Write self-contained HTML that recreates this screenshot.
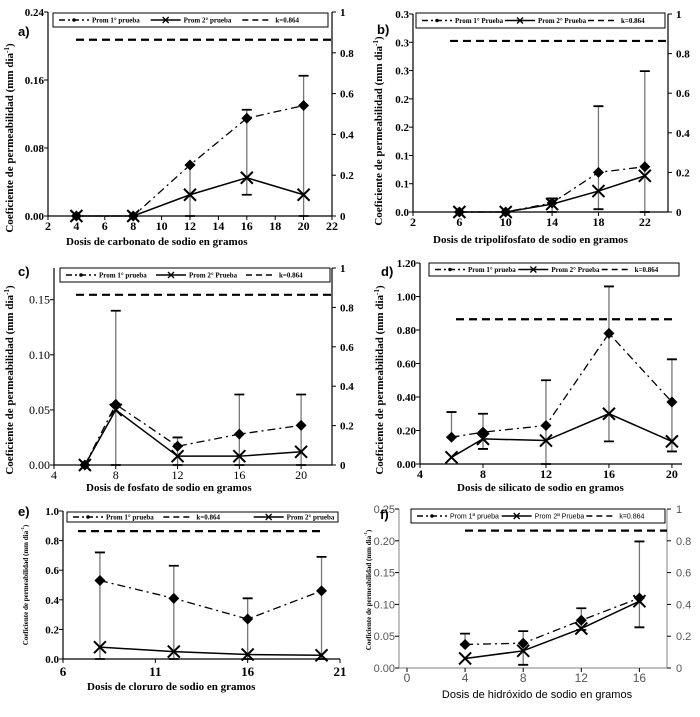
<!DOCTYPE html>
<html><head><meta charset="utf-8">
<style>
html,body{margin:0;padding:0;background:#fff;}
svg{display:block;font-family:"Liberation Serif",serif;}
</style></head>
<body>
<svg id="fig" width="700" height="717" viewBox="0 0 700 717" xmlns="http://www.w3.org/2000/svg"></svg>
<script>
// ---- Panel a: carbonato ----
const aX=[4,8,12,16,20];
const aS1=[0,0,0.06,0.115,0.13];
const aS2=[0,0,0.025,0.045,0.025];
const aLo=[0,0,0,0.025,0];
const aHi=[0,0,0.06,0.125,0.165];
const aYTicks=["0.00","0.08","0.16","0.24"];
const aXTicks=[2,4,6,8,10,12,14,16,18,20,22];
// ---- Panel b: tripolifosfato ----
const bX=[6,10,14,18,22];
const bS1=[0,0,0.016,0.07,0.08];
const bS2=[0,0,0.014,0.037,0.064];
const bLo=[0,0,0,0.005,0];
const bHi=[0,0,0.024,0.187,0.249];
const bYTicks=["0.0","0.1","0.1","0.2","0.2","0.3","0.3","0.3"];
const bXTicks=[2,6,10,14,18,22];
// ---- Panel c: fosfato ----
const cX=[6,8,12,16,20];
const cS1=[0,0.055,0.017,0.028,0.036];
const cS2=[0,0.05,0.008,0.008,0.012];
const cLo=[0,0,0,0,0];
const cHi=[0,0.14,0.025,0.064,0.064];
const cYTicks=["0.00","0.05","0.10","0.15"];
const cXTicks=[4,8,12,16,20];
// ---- Panel d: silicato ----
const dX=[6,8,12,16,20];
const dS1=[0.16,0.19,0.23,0.78,0.37];
const dS2=[0.04,0.15,0.14,0.30,0.135];
const dLo=[0.16,0.09,0,0.135,0.075];
const dHi=[0.31,0.30,0.50,1.06,0.625];
const dYTicks=["0.00","0.20","0.40","0.60","0.80","1.00","1.20"];
const dXTicks=[4,8,12,16,20];
// ---- Panel e: cloruro ----
const eX=[8,12,16,20];
const eS1=[0.53,0.41,0.27,0.46];
const eS2=[0.08,0.05,0.03,0.025];
const eLo=[0,0,0,0];
const eHi=[0.72,0.63,0.41,0.69];
const eYTicks=["0.0","0.2","0.4","0.6","0.8","1.0"];
const eXTicks=[6,11,16,21];
// ---- Panel f: hidroxido ----
const fX=[4,8,12,16];
const fS1=[0.037,0.039,0.075,0.11];
const fS2=[0.015,0.027,0.062,0.105];
const fLo=[0.037,0.005,0.06,0.064];
const fHi=[0.054,0.058,0.094,0.199];
const fYTicks=["0.00","0.05","0.10","0.15","0.20","0.25"];
const fXTicks=[0,4,8,12,16];
const kValue=0.864;
const rightTicks=["0","0.2","0.4","0.6","0.8","1"];

const NS="http://www.w3.org/2000/svg";
const svg=document.getElementById('fig');
function mk(tag,attrs,parent,text){const e=document.createElementNS(NS,tag);for(const k in attrs)e.setAttribute(k,attrs[k]);if(text!==undefined)e.textContent=text;(parent||svg).appendChild(e);return e;}

const panels=[
 {id:'a',X:aX,S1:aS1,S2:aS2,Lo:aLo,Hi:aHi,yT:aYTicks,xT:aXTicks,L:48,R:332,T:12,B:216,xmin:2,xmax:22,ymax:0.24,right:true,rx:340,
  title:"Dosis de carbonato de sodio en gramos",tx:66,ty:245,lab:[18,36],yl:[13,138],yfs:11,
  leg:[53,13,328,27],legItems:["Prom 1° prueba","Prom 2° prueba","k=0.864"],kx:76,sans:false},
 {id:'b',X:bX,S1:bS1,S2:bS2,Lo:bLo,Hi:bHi,yT:bYTicks,xT:bXTicks,L:413,R:668,T:14,B:212,xmin:2,xmax:24,ymax:0.35,right:true,rx:676,
  title:"Dosis de tripolifosfato de sodio en gramos",tx:433,ty:243,lab:[377,34],yl:[382,131],yfs:11,
  leg:[416,13,665,28],legItems:["Prom 1° Prueba","Prom 2° Prueba","k=0.864"],kx:450,sans:false},
 {id:'c',X:cX,S1:cS1,S2:cS2,Lo:cLo,Hi:cHi,yT:cYTicks,xT:cXTicks,L:54,R:332,T:268,B:465,xmin:4,xmax:22,ymax:0.1788,right:true,rx:340,
  title:"Dosis de fosfato de sodio en gramos",tx:86,ty:491,lab:[18,276],yl:[13,380],yfs:11,
  leg:[60,268,330,282],legItems:["Prom 1° prueba","Prom 2° Prueba","k=0.864"],kx:76,sans:false},
 {id:'d',X:dX,S1:dS1,S2:dS2,Lo:dLo,Hi:dHi,yT:dYTicks,xT:dXTicks,L:420,R:682,T:263,B:464,xmin:4,xmax:20.64,ymax:1.2,right:false,kAbs:true,
  title:"Dosis de silicato de sodio en gramos",tx:457,ty:491,lab:[381,276],yl:[383,380],yfs:11,
  leg:[429,263,679,276],legItems:["Prom 1° prueba","Prom 2° Prueba","k=0.864"],kx:456,kx2:673,sans:false},
 {id:'e',X:eX,S1:eS1,S2:eS2,Lo:eLo,Hi:eHi,yT:eYTicks,xT:eXTicks,L:63,R:340,T:511,B:659,xmin:6,xmax:21,ymax:1.0,right:false,kAbs:true,
  title:"Dosis de cloruro de sodio en gramos",tx:87,ty:690,lab:[18,516],yl:[28,585],yfs:7,
  leg:[67,512,338,522],legItems:["Prom 1° prueba","k=0.864","Prom 2° prueba"],kx:78,kx2:320,sans:false,order:[0,2,1]},
 {id:'f',X:fX,S1:fS1,S2:fS2,Lo:fLo,Hi:fHi,yT:fYTicks,xT:fXTicks,L:399,R:667,T:509,B:668,xmin:-0.55,xmax:17.9,ymax:0.25,right:true,rx:676,
  title:"Dosis de hidróxido de sodio en gramos",tx:537,ty:698,lab:[380,519],yl:[371,590],yfs:7,
  leg:[411,509,665,523],legItems:["Prom 1ª prueba","Prom 2ª Prueba","k=0.864"],kx:465,sans:true}
];

function diamond(x,y,g){const s=5.5;const p=mk('path',{d:`M${x},${y-s}L${x+s},${y}L${x},${y+s}L${x-s},${y}Z`,fill:'#000'},g);

}
function cross(x,y,g){const s=6;const p=mk('path',{d:`M${x-s},${y-s}L${x+s},${y+s}M${x-s},${y+s}L${x+s},${y-s}`,stroke:'#000','stroke-width':2},g);

}

panels.forEach(p=>{
  const g=mk('g',{});
  
  
  const ff=p.sans?'"Liberation Sans",sans-serif':'"Liberation Serif",serif';
  const tcol=p.sans?'#555':'#000';
  const fw=p.sans?'normal':'bold';
  const xs=v=>p.L+(v-p.xmin)/(p.xmax-p.xmin)*(p.R-p.L);
  const ys=v=>p.B-v/p.ymax*(p.B-p.T);
  const yr=v=>p.B-v*(p.B-p.T);
  const ax=mk('path',{d:`M${p.L},${p.T}V${p.B}H${p.R}`,stroke:p.sans?'#999':'#000','stroke-width':1.2,fill:'none'},g);
  
  
  if(p.right){const ra=mk('path',{d:`M${p.R},${p.T}V${p.B}`,stroke:p.sans?'#999':'#000','stroke-width':1.2},g);
    
    
    rightTicks.forEach((t,i)=>{const y=yr(i/5);
      mk('line',{x1:p.R,x2:p.R+4,y1:y,y2:y,stroke:'#000'},g);
      const tt=mk('text',{x:p.rx,y:y+4,'font-size':11,'font-family':ff,'font-weight':fw,fill:tcol},g,t);
      
      });}
  const n=p.yT.length-1;
  p.yT.forEach((t,i)=>{let v=p.ymax*i/n; if(p.id==='c') v=0.05*i;
    const y=ys(v);
    mk('line',{x1:p.L-4,x2:p.L,y1:y,y2:y,stroke:'#000'},g);
    const tt=mk('text',{x:p.L-4,y:y+4,'text-anchor':'end','font-size':p.id==='c'?12:11,'font-family':ff,'font-weight':p.id==='c'?'normal':fw,fill:tcol},g,t);
    
    });
  p.xT.forEach(v=>{const x=xs(v);
    mk('line',{x1:x,x2:x,y1:p.B,y2:p.B+4,stroke:'#000'},g);
    const tt=mk('text',{x:x,y:p.B+(p.id==='e'?17:14),'text-anchor':'middle','font-size':p.id==='e'?13:12,'font-family':ff,'font-weight':(p.id==='c'||p.id==='f')?'normal':fw,fill:tcol},g,String(v));
    
    });
  const ky=p.kAbs?ys(kValue):yr(kValue);
  const kl=mk('line',{x1:p.kx,x2:p.kx2||p.R,y1:ky,y2:ky,stroke:'#000','stroke-width':2.2,'stroke-dasharray':'8,5'},g);
  
  
  p.X.forEach((xv,i)=>{if(p.Hi[i]===p.Lo[i])return;const x=xs(xv);
    const eb=mk('path',{d:`M${x},${ys(p.Lo[i])}V${ys(p.Hi[i])}`,stroke:'#777','stroke-width':1.3},g);
    
    
    mk('path',{d:`M${x-5},${ys(p.Hi[i])}H${x+5}M${x-5},${ys(p.Lo[i])}H${x+5}`,stroke:'#000','stroke-width':1.8},g);});
  const l1=mk('polyline',{points:p.X.map((x,i)=>xs(x)+','+ys(p.S1[i])).join(' '),fill:'none',stroke:'#000','stroke-width':1.3,'stroke-dasharray':'8,4,2,4'},g);
  
  
  const l2=mk('polyline',{points:p.X.map((x,i)=>xs(x)+','+ys(p.S2[i])).join(' '),fill:'none',stroke:'#000','stroke-width':1.5},g);
  
  
  p.X.forEach((x,i)=>diamond(xs(x),ys(p.S1[i]),g));
  p.X.forEach((x,i)=>cross(xs(x),ys(p.S2[i]),g));
  const [lx1,ly1,lx2,ly2]=p.leg;
  const lb=mk('rect',{x:lx1,y:ly1,width:lx2-lx1,height:ly2-ly1,fill:'#fff',stroke:'#000','stroke-width':1},g);
  
  
  const w=(lx2-lx1)/3, ly=(ly1+ly2)/2;
  const types=p.order||[0,1,2];
  types.forEach((tp,j)=>{const x0=lx1+j*w+6;
    const st={stroke:'#000','stroke-width':tp===1?1.5:1.6};
    if(tp===0)st['stroke-dasharray']='6,3,2,3';
    if(tp===2)st['stroke-dasharray']='6,4';
    mk('line',Object.assign({x1:x0,x2:x0+30,y1:ly,y2:ly},st),g);
    if(tp===0)mk('circle',{cx:x0+15,cy:ly,r:1.8,fill:'#000'},g);
    if(tp===1)mk('path',{d:`M${x0+12},${ly-3}L${x0+18},${ly+3}M${x0+12},${ly+3}L${x0+18},${ly-3}`,stroke:'#000','stroke-width':1.3},g);
    const lt=mk('text',{x:x0+33,y:ly+2.5,'font-size':7,'font-family':ff,'font-weight':p.sans?'normal':'bold'},g,p.legItems[j]);
    
    });
  const xt=mk('text',{x:p.tx,y:p.ty,'font-size':11,'font-family':ff,'font-weight':p.sans?'normal':'bold',fill:'#000','text-anchor':p.id==='f'?'middle':'start'},g,p.title);
  
  
  const yt=mk('text',{x:0,y:0,transform:`translate(${p.yl[0]},${p.yl[1]}) rotate(-90)`,'text-anchor':'middle','font-size':p.yfs,'font-family':'"Liberation Serif",serif','font-weight':'bold'},g);
  
  
  yt.textContent='Coeficiente de permeabilidad (mm dia';
  mk('tspan',{dy:-4,'font-size':p.yfs*0.65},yt,'-1');
  mk('tspan',{dy:4},yt,')');
  const pl=mk('text',{x:p.lab[0],y:p.lab[1],'font-size':13,'font-family':'"Liberation Sans",sans-serif','font-weight':'bold'},g,p.id+')');
  
  
});
</script>
</body></html>
